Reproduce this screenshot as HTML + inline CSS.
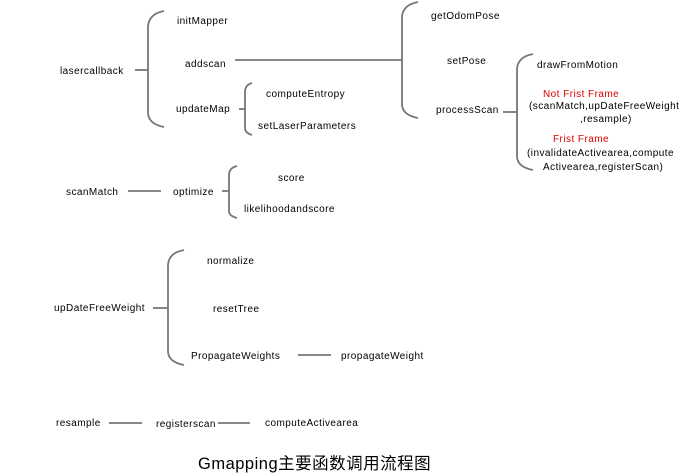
<!DOCTYPE html>
<html><head><meta charset="utf-8"><style>
body{margin:0;background:#fff}
svg{display:block}
text{font-family:"Liberation Sans","Noto Sans CJK SC",sans-serif;font-size:10px;fill:#000;letter-spacing:0.45px}
.r{fill:#e00000}
path,line{stroke:#777;stroke-width:1.8;fill:none}
</style></head><body>
<svg width="692" height="476" viewBox="0 0 692 476">
<path d="M164,11 Q148,14 148,28 L148,112 Q148,124 164,127"/>
<line x1="135" y1="70" x2="148" y2="70"/>
<path d="M418,2 Q402,5 402,18 L402,104 Q402,115 418,118"/>
<line x1="235" y1="60" x2="402" y2="60"/>
<path d="M252,83 Q245,85 245,92 L245,128 Q245,133 252,135"/>
<line x1="239" y1="109" x2="245" y2="109"/>
<path d="M533,54 Q517,57 517,70 L517,156 Q517,167 533,170"/>
<line x1="503" y1="112" x2="517" y2="112"/>
<path d="M237,166 Q229,168 229,175 L229,211 Q229,216 237,218"/>
<line x1="128" y1="191" x2="161" y2="191"/>
<line x1="222" y1="191" x2="229" y2="191"/>
<path d="M184,250 Q168,253 168,266 L168,351 Q168,362 184,365"/>
<line x1="153" y1="308" x2="168" y2="308"/>
<line x1="298" y1="355" x2="331" y2="355"/>
<line x1="109" y1="423" x2="142" y2="423"/>
<line x1="218" y1="423" x2="250" y2="423"/>
<text x="60" y="74">lasercallback</text>
<text x="177" y="24">initMapper</text>
<text x="185" y="67">addscan</text>
<text x="176" y="112">updateMap</text>
<text x="266" y="97">computeEntropy</text>
<text x="258" y="129">setLaserParameters</text>
<text x="431" y="19">getOdomPose</text>
<text x="447" y="64">setPose</text>
<text x="436" y="113">processScan</text>
<text x="537" y="68">drawFromMotion</text>
<text class="r" x="543" y="97">Not Frist Frame</text>
<text x="529" y="109">(scanMatch,upDateFreeWeight</text>
<text x="580" y="122">,resample)</text>
<text class="r" x="553" y="142">Frist Frame</text>
<text x="527" y="156">(invalidateActivearea,compute</text>
<text x="543" y="170">Activearea,registerScan)</text>
<text x="66" y="195">scanMatch</text>
<text x="173" y="195">optimize</text>
<text x="278" y="181">score</text>
<text x="244" y="212">likelihoodandscore</text>
<text x="54" y="311">upDateFreeWeight</text>
<text x="207" y="264">normalize</text>
<text x="213" y="312">resetTree</text>
<text x="191" y="359">PropagateWeights</text>
<text x="341" y="359">propagateWeight</text>
<text x="56" y="426">resample</text>
<text x="156" y="427">registerscan</text>
<text x="265" y="426">computeActivearea</text>
<text x="198" y="469" style="font-size:16.5px;letter-spacing:0.5px">Gmapping主要函数调用流程图</text>
</svg>
</body></html>
